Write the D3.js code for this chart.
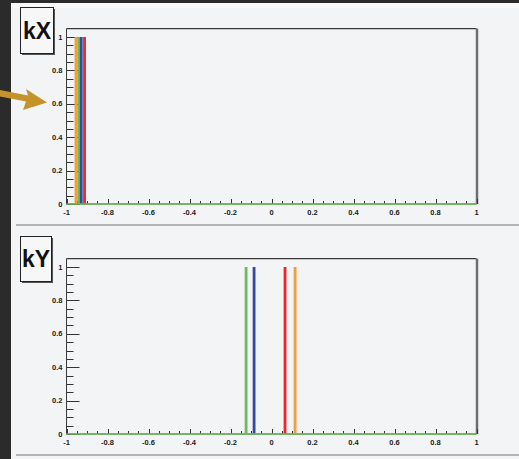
<!DOCTYPE html>
<html>
<head>
<meta charset="utf-8">
<script src="https://cdn.jsdelivr.net/npm/d3@7"></script>
<style>
  html, body { margin: 0; padding: 0; background: #2b2b2b; }
  svg { display: block; }
</style>
</head>
<body>
<svg id="chart" width="519" height="459"></svg>
<script>
// Four histogram series, each with a single filled bin
const seriesNames  = ["h_orange", "h_green", "h_blue", "h_red"];
const seriesColors = ["#f59d3d", "#6abd5a", "#344a9b", "#e8262b"];

// Bin position of the filled bin per series, for each variable
const kXPeaks = [-0.954, -0.940, -0.928, -0.912];
const kYPeaks = [0.115, -0.124, -0.085, 0.066];
const kXHeights = [1, 1, 1, 1];
const kYHeights = [1, 1, 1, 1];

// Axis ticks and labels
const xMajorTicks  = [-1, -0.8, -0.6, -0.4, -0.2, 0, 0.2, 0.4, 0.6, 0.8, 1];
const xTickLabels  = ["-1", "-0.8", "-0.6", "-0.4", "-0.2", "0", "0.2", "0.4", "0.6", "0.8", "1"];
const yMajorTicks  = [0, 0.2, 0.4, 0.6, 0.8, 1];
const yTickLabels  = ["0", "0.2", "0.4", "0.6", "0.8", "1"];
const minorStep = 0.05;

const panelTitles = ["kX", "kY"];

const svg = d3.select("#chart");
const W = 519;

// Canvas backgrounds
svg.append("rect").attr("x", 11).attr("y", 3).attr("width", W - 11).attr("height", 456).attr("fill", "#f3f4f6");
svg.append("rect").attr("x", 11).attr("y", 3).attr("width", W - 11).attr("height", 5).attr("fill", "#f9f9fa");
// separators between pads
svg.append("rect").attr("x", 16).attr("y", 224).attr("width", W - 16).attr("height", 2).attr("fill", "#b4b4b6");
svg.append("rect").attr("x", 16).attr("y", 454).attr("width", W - 16).attr("height", 2).attr("fill", "#b4b4b6");

const font = "'Liberation Sans', Arial, sans-serif";

function drawPanel(cfg) {
  const g = svg.append("g");
  const x = d3.scaleLinear().domain([-1, 1]).range([66.5, 476.5]);
  const y = d3.scaleLinear().domain([0, 1]).range([cfg.y0, cfg.y1]);
  const yTop = y(1.05);

  // frame
  g.append("line").attr("x1", x(-1)).attr("x2", x(1)).attr("y1", yTop).attr("y2", yTop)
    .attr("stroke", "#3a3a3a").attr("stroke-width", 1.2);
  g.append("line").attr("x1", x(1) + 0.5).attr("x2", x(1) + 0.5).attr("y1", yTop).attr("y2", y(0))
    .attr("stroke", "#6e6e6e").attr("stroke-width", 2.5);
  g.append("line").attr("x1", x(-1)).attr("x2", x(-1)).attr("y1", yTop).attr("y2", y(0))
    .attr("stroke", "#3a3a3a").attr("stroke-width", 1);

  // y ticks (inward)
  const yMinor = d3.range(0, 1.0001 + minorStep / 2, minorStep);
  g.selectAll(null).data(yMinor).join("line")
    .attr("x1", x(-1)).attr("x2", d => x(-1) + (Math.abs(d * 5 - Math.round(d * 5)) < 1e-6 ? 13 : 7))
    .attr("y1", d => Math.round(y(d)) + 0.5).attr("y2", d => Math.round(y(d)) + 0.5)
    .attr("stroke", "#333").attr("stroke-width", 1);

  // x ticks (upward)
  const xMinor = d3.range(-1, 1.0001, minorStep);
  g.selectAll(null).data(xMinor).join("line")
    .attr("x1", d => Math.round(x(d)) + 0.5).attr("x2", d => Math.round(x(d)) + 0.5)
    .attr("y1", y(0)).attr("y2", d => y(0) - (Math.abs(d * 5 - Math.round(d * 5)) < 1e-6 ? 5 : 3))
    .attr("stroke", "#333").attr("stroke-width", 1);

  // x axis line
  g.append("line").attr("x1", x(-1)).attr("x2", x(1)).attr("y1", y(0)).attr("y2", y(0))
    .attr("stroke", "#444").attr("stroke-width", 1);

  // histogram spikes
  const spikes = cfg.peaks.map((p, i) => ({ p, h: cfg.heights[i], color: seriesColors[i], name: seriesNames[i] }));
  g.selectAll(null).data(spikes).join("rect")
    .attr("class", d => d.name)
    .attr("x", d => x(d.p) - 1.4).attr("width", 2.8)
    .attr("y", d => y(d.h)).attr("height", d => y(0) - y(d.h))
    .attr("fill", d => d.color);

  // zero-content baseline of the last drawn histogram
  g.append("line").attr("x1", x(-1)).attr("x2", x(1)).attr("y1", y(0)).attr("y2", y(0))
    .attr("stroke", seriesColors[1]).attr("stroke-width", 1.6);

  // labels
  g.selectAll(null).data(yMajorTicks).join("text")
    .attr("x", 62.5).attr("y", d => y(d)).attr("dy", "0.35em")
    .attr("text-anchor", "end").attr("font-family", font).attr("font-weight", "bold")
    .attr("font-size", 7.5).attr("fill", "#222")
    .text((d, i) => yTickLabels[i]);
  g.selectAll(null).data(xMajorTicks).join("text")
    .attr("x", d => x(d)).attr("y", y(0) + 5.5).attr("dy", "0.7em")
    .attr("text-anchor", "middle").attr("font-family", font).attr("font-weight", "bold")
    .attr("font-size", 7.5).attr("fill", "#222")
    .text((d, i) => xTickLabels[i]);

  // title box
  const b = cfg.box;
  g.append("rect").attr("x", b.x + 1.5).attr("y", b.y + 1.5).attr("width", b.w).attr("height", b.h)
    .attr("fill", "#555");
  g.append("rect").attr("x", b.x).attr("y", b.y).attr("width", b.w).attr("height", b.h)
    .attr("fill", "#f7f7f8").attr("stroke", "#222").attr("stroke-width", 1);
  g.append("text").attr("x", b.x + b.w / 2).attr("y", b.ty)
    .attr("text-anchor", "middle").attr("font-family", font).attr("font-weight", "bold")
    .attr("font-size", 23).attr("fill", "#111").text(cfg.title);
}

drawPanel({ y0: 204, y1: 37, peaks: kXPeaks, heights: kXHeights, title: panelTitles[0],
            box: { x: 20.5, y: 7.5, w: 33, h: 46, ty: 39 } });
drawPanel({ y0: 434, y1: 267, peaks: kYPeaks, heights: kYHeights, title: panelTitles[1],
            box: { x: 20.5, y: 236.5, w: 31, h: 45, ty: 267 } });

// pointer arrow at the left edge
const arrow = d3.path();
arrow.moveTo(0, 90);
arrow.lineTo(28, 95.5);
arrow.lineTo(26, 89);
arrow.lineTo(47, 102.5);
arrow.lineTo(23, 110);
arrow.lineTo(26, 101.5);
arrow.lineTo(0, 96.5);
arrow.closePath();
svg.append("path").attr("d", arrow.toString()).attr("fill", "#c4932b");
</script>
</body>
</html>
